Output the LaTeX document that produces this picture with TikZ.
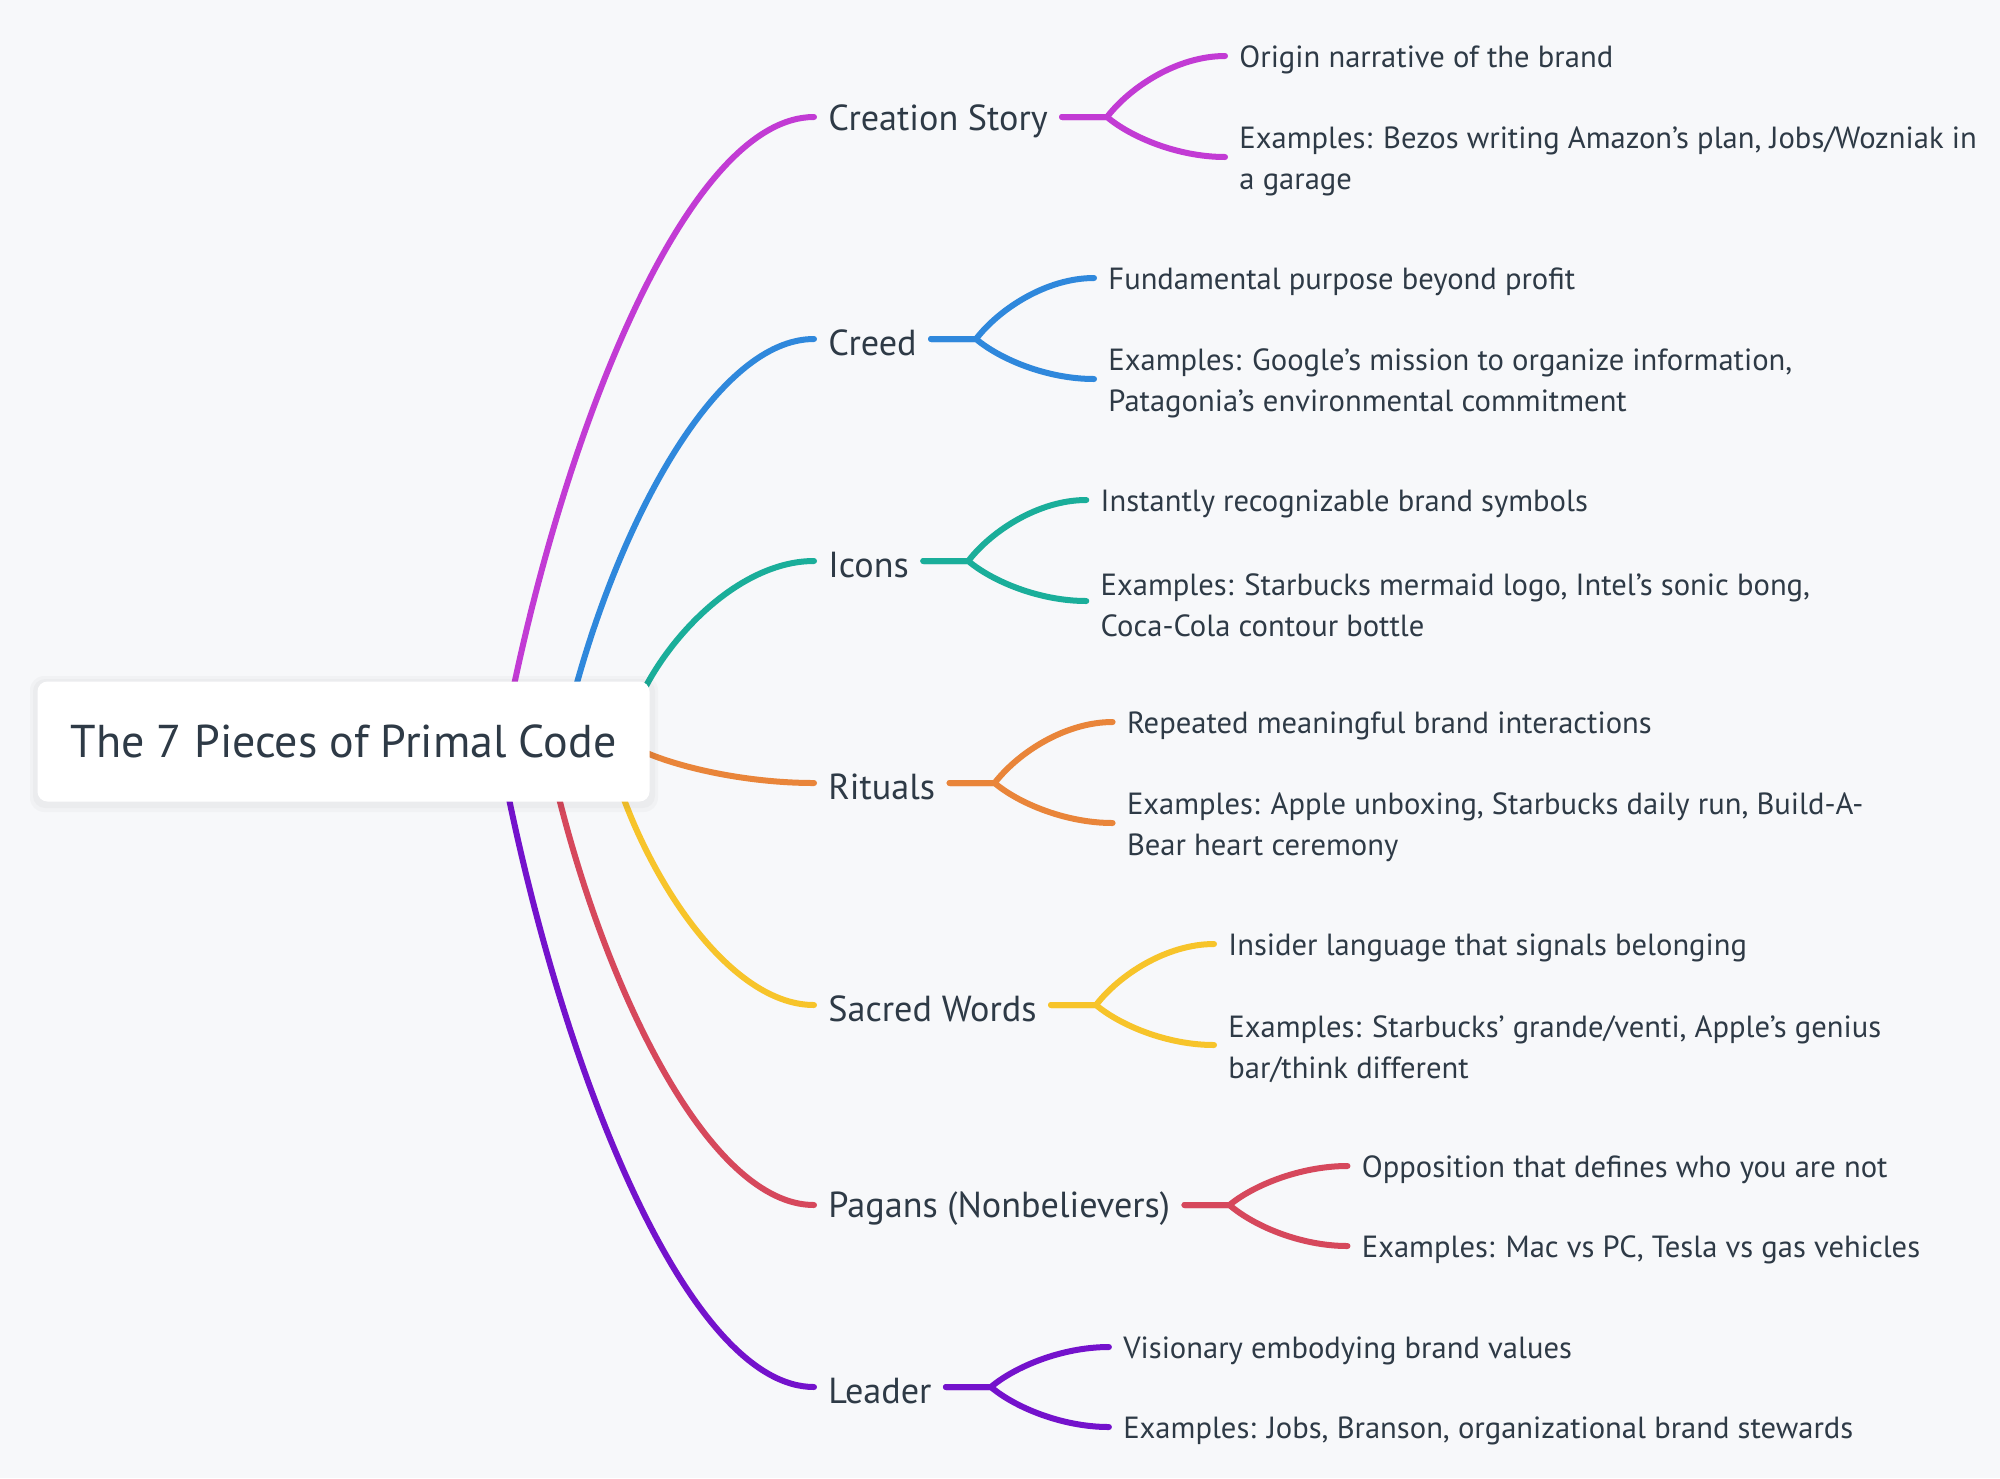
\documentclass[tikz,border=0pt]{standalone}
\usepackage{fontspec}
\setmainfont{PT Sans}
\usetikzlibrary{calc}
\definecolor{bg}{HTML}{F7F8FA}
\definecolor{txt}{HTML}{2E3A46}
\definecolor{cPurple}{HTML}{C23BD4}
\definecolor{cBlue}{HTML}{2F88DC}
\definecolor{cTeal}{HTML}{1AAE9A}
\definecolor{cOrange}{HTML}{E9853A}
\definecolor{cYellow}{HTML}{F7C42A}
\definecolor{cRed}{HTML}{D6485C}
\definecolor{cViolet}{HTML}{7412CC}
\newcommand\mainedge[3]{%
  \draw[edge,#1] let \p1=(#2), \p2=($(#3.west)+(0,-4)$) in
    (\p1) .. controls ({\x1+0.2*(\x2-\x1)},{\y1+0.5*(\y2-\y1)}) and ({\x1+0.6*(\x2-\x1)},\y2) .. (\p2);}
\newcommand\subedge[3]{%
  \draw[edge,#1] let \p0=($(#2.east)+(0,-4)$), \p1=($(#2.east)+(45,-4)$), \p2=($(#3.west)+(0,-4)$) in
    (\p0) -- (\p1) .. controls ({\x1+0.2*(\x2-\x1)},{\y1+0.5*(\y2-\y1)}) and ({\x1+0.6*(\x2-\x1)},\y2) .. (\p2);}
\begin{document}
\begin{tikzpicture}[x=0.5pt,y=-0.5pt,
  edge/.style={line width=3pt, line cap=round},
  rootbox/.style={fill=white, rounded corners=5pt, minimum width=306pt, minimum height=60pt, inner sep=0pt, text=txt, font=\fontsize{23}{26}\selectfont},
  lvone/.style={anchor=west, yshift=-2pt, inner xsep=7pt, inner ysep=2pt, text=txt, font=\fontsize{18.1}{21}\selectfont},
  lvtwo/.style={anchor=west, yshift=-2pt, inner xsep=7pt, inner ysep=2pt, text=txt, align=left, font=\fontsize{15.3}{20.5}\selectfont},
]
\fill[bg] (0,0) rectangle (2000,1478);
\useasboundingbox (0,0) rectangle (2000,1478);

% level-one nodes
\node[lvone] (n1) at (814,117) {Creation Story};
\node[lvone] (n2) at (814,339) {Creed};
\node[lvone] (n3) at (814,561) {Icons};
\node[lvone] (n4) at (814,783) {Rituals};
\node[lvone] (n5) at (814,1005) {Sacred Words};
\node[lvone] (n6) at (814,1205) {Pagans (Nonbelievers)};
\node[lvone] (n7) at (814,1387) {Leader};

% start points on the root
\coordinate (s1) at (513,690);
\coordinate (s2) at (575,690);
\coordinate (s3) at (646,686);
\coordinate (s4) at (640,750);
\coordinate (s5) at (622,794);
\coordinate (s6) at (558,794);
\coordinate (s7) at (508,794);

\mainedge{cPurple}{s1}{n1}
\mainedge{cBlue}{s2}{n2}
\mainedge{cTeal}{s3}{n3}
\mainedge{cOrange}{s4}{n4}
\mainedge{cYellow}{s5}{n5}
\mainedge{cRed}{s6}{n6}
\mainedge{cViolet}{s7}{n7}

% root
\fill[black,opacity=0.025,rounded corners=7pt] (30,676) rectangle (658,812);
\fill[black,opacity=0.025,rounded corners=6pt] (33,679) rectangle (655,808);
\node[rootbox] (root) at (343.5,741.5) {The 7 Pieces of Primal Code};

% level-two nodes
\node[lvtwo] (c11) at ($(n1.east)+(163,-65)$) {Origin narrative of the brand};
\node[lvtwo] (c12) at ($(n1.east)+(163,36)$) {Examples: Bezos writing Amazon’s plan, Jobs/Wozniak in\\a garage};
\node[lvtwo] (c21) at ($(n2.east)+(163,-65)$) {Fundamental purpose beyond profit};
\node[lvtwo] (c22) at ($(n2.east)+(163,36)$) {Examples: Google’s mission to organize information,\\Patagonia’s environmental commitment};
\node[lvtwo] (c31) at ($(n3.east)+(163,-65)$) {Instantly recognizable brand symbols};
\node[lvtwo] (c32) at ($(n3.east)+(163,36)$) {Examples: Starbucks mermaid logo, Intel’s sonic bong,\\Coca-Cola contour bottle};
\node[lvtwo] (c41) at ($(n4.east)+(163,-65)$) {Repeated meaningful brand interactions};
\node[lvtwo] (c42) at ($(n4.east)+(163,36)$) {Examples: Apple unboxing, Starbucks daily run, Build-A-\\Bear heart ceremony};
\node[lvtwo] (c51) at ($(n5.east)+(163,-65)$) {Insider language that signals belonging};
\node[lvtwo] (c52) at ($(n5.east)+(163,36)$) {Examples: Starbucks’ grande/venti, Apple’s genius\\bar/think different};
\node[lvtwo] (c61) at ($(n6.east)+(163,-43)$) {Opposition that defines who you are not};
\node[lvtwo] (c62) at ($(n6.east)+(163,37)$) {Examples: Mac vs PC, Tesla vs gas vehicles};
\node[lvtwo] (c71) at ($(n7.east)+(163,-44)$) {Visionary embodying brand values};
\node[lvtwo] (c72) at ($(n7.east)+(163,36)$) {Examples: Jobs, Branson, organizational brand stewards};

\subedge{cPurple}{n1}{c11}
\subedge{cPurple}{n1}{c12}
\subedge{cBlue}{n2}{c21}
\subedge{cBlue}{n2}{c22}
\subedge{cTeal}{n3}{c31}
\subedge{cTeal}{n3}{c32}
\subedge{cOrange}{n4}{c41}
\subedge{cOrange}{n4}{c42}
\subedge{cYellow}{n5}{c51}
\subedge{cYellow}{n5}{c52}
\subedge{cRed}{n6}{c61}
\subedge{cRed}{n6}{c62}
\subedge{cViolet}{n7}{c71}
\subedge{cViolet}{n7}{c72}
\end{tikzpicture}
\end{document}
